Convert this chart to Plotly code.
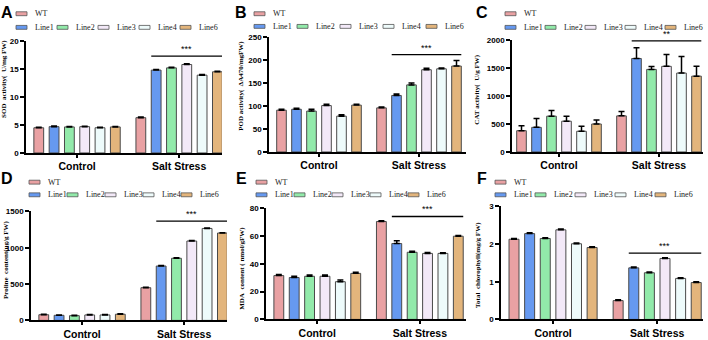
import plotly.graph_objects as go

W, H = 708, 340

groups = ["Control", "Salt Stress"]
series = ["WT", "Line1", "Line2", "Line3", "Line4", "Line6"]
colors = ["#E9A1A3", "#6699F0", "#92EAAA", "#F3E9F8", "#EEFBFB", "#E3B57C"]

# values[panel][series] = [control, salt]
sod = [[4.5, 6.3], [4.7, 14.8], [4.65, 15.2], [4.7, 15.8], [4.5, 13.9], [4.65, 14.5]]
sod_err = [[0.1, 0.1], [0.1, 0.12], [0.08, 0.1], [0.08, 0.12], [0.08, 0.1], [0.08, 0.1]]
pod = [[91, 96], [93, 123], [89, 146], [101, 179], [78, 181], [102, 187]]
pod_err = [[2, 2], [2, 3], [4, 4], [3, 3], [3, 2], [2, 12]]
cat = [[380, 645], [440, 1670], [640, 1475], [550, 1530], [370, 1410], [500, 1355]]
cat_err = [[90, 80], [160, 190], [100, 50], [90, 210], [90, 295], [70, 175]]
pro = [[78, 450], [70, 748], [65, 855], [75, 1092], [75, 1265], [85, 1202]]
pro_err = [[5, 6], [5, 6], [5, 6], [5, 6], [5, 6], [5, 5]]
mda = [[31.6, 70.6], [30.2, 54.7], [31.1, 48.4], [31.1, 47.6], [27.2, 47.6], [33.2, 60.0]]
mda_err = [[0.8, 0.6], [0.9, 2.0], [1.0, 0.8], [0.9, 0.6], [1.2, 0.5], [0.8, 0.5]]
chl = [[2.13, 0.50], [2.28, 1.37], [2.15, 1.24], [2.38, 1.62], [2.01, 1.09], [1.91, 0.98]]
chl_err = [[0.02, 0.02], [0.02, 0.02], [0.02, 0.02], [0.02, 0.02], [0.02, 0.02], [0.02, 0.02]]

y_titles = [
    "SOD\u00a0\u00a0activity(\u00a0\u00a0U/mg FW)",
    "POD activity(\u00a0\u00a0\u0394A470/mgFW)",
    "CAT activity(\u00a0\u00a0U/g FW)",
    "Proline\u00a0\u00a0content(ug/g FW)",
    "MDA\u00a0\u00a0content (\u00a0nmol/gFW)",
    "Total\u00a0\u00a0chlorophyll(mg/g FW)",
]
letters = ["A", "B", "C", "D", "E", "F"]
sig_text = ["***", "***", "**", "***", "***", "***"]
sig_level = [17.3, 212, 1985, 1366, 74.2, 1.76]
y_max = [20, 250, 2000, 1500, 80, 3]
y_dtick = [5, 50, 500, 500, 20, 1]

panels = [(sod, sod_err), (pod, pod_err), (cat, cat_err), (pro, pro_err), (mda, mda_err), (chl, chl_err)]

# layout geometry (pixels)
dom = [  # x0, x1, ytop, ybottom
    (26, 222, 38, 153),
    (269, 466, 34, 152),
    (512, 703, 37, 152),
    (31, 227, 213, 325),
    (266, 466, 210, 324),
    (501, 703, 208, 324),
]
xr = [(-0.5, 1.42), (-0.5, 1.47), (-0.47, 1.44), (-0.5, 1.42), (-0.5, 1.45), (-0.5, 1.44)]
ytitle_pos = [(4, 77), (241, 84), (477, 88), (6, 263), (242, 272), (478, 268)]
letter_pos = [(7, 9), (241, 9), (482, 9), (7, 179), (241, 179), (482, 179)]
leg_pos = [(16, 10, 24, 41), (254, 10, 23, 43), (505, 10, 24, 40),
           (29, 183, 196, 38), (256, 183, 196, 38), (495, 183, 196, 40)]

BARGAP = 0.1
GROUPGAP = 0.36


def px(x):
    return x / W


def py(y):
    return 1 - y / H


fig = go.Figure()
layout = dict(
    width=W, height=H, margin=dict(l=0, r=0, t=0, b=0),
    paper_bgcolor="white", plot_bgcolor="white",
    barmode="group", bargap=BARGAP, bargroupgap=GROUPGAP,
    showlegend=False,
)
shapes = []
annotations = []

for p, (vals, errs) in enumerate(panels):
    xa = "x" if p == 0 else f"x{p+1}"
    ya = "y" if p == 0 else f"y{p+1}"
    xkey = "xaxis" if p == 0 else f"xaxis{p+1}"
    ykey = "yaxis" if p == 0 else f"yaxis{p+1}"
    for s in range(6):
        fig.add_trace(go.Bar(
            x=groups, y=vals[s], name=series[s],
            marker=dict(color=colors[s], line=dict(color="#4a4a4a", width=1)),
            error_y=dict(type="data", array=errs[s], arrayminus=[0, 0], symmetric=False,
                         color="black", thickness=1.5, width=3),
            xaxis=xa, yaxis=ya,
        ))
    x0, x1, yt, yb = dom[p]
    layout[xkey] = dict(
        domain=[px(x0), px(x1)], anchor=ya, type="category", range=list(xr[p]),
        showline=True, linecolor="black", linewidth=1.6,
        ticks="outside", ticklen=3, tickwidth=1.5, tickcolor="black",
        tickfont=dict(family="Liberation Sans", size=10.5, color="black", weight="bold"),
        showgrid=False, zeroline=False, fixedrange=True,
    )
    layout[ykey] = dict(
        domain=[py(yb), py(yt)], anchor=xa, range=[0, y_max[p]], dtick=y_dtick[p],
        showline=True, linecolor="black", linewidth=1.6,
        ticks="outside", ticklen=4, tickwidth=1.5, tickcolor="black",
        tickfont=dict(family="Liberation Sans", size=8, color="black", weight="bold"),
        showgrid=False, zeroline=False, fixedrange=True,
    )
    # significance line over salt-stress transgenic lines
    slot = (1 - BARGAP) / 6
    half_bar = slot * (1 - GROUPGAP) / 2
    lx0 = 1 - (1 - BARGAP) / 2 + slot * 1.5 - half_bar
    lx1 = 1 + (1 - BARGAP) / 2 - slot * 0.5 + half_bar
    shapes.append(dict(type="line", xref=xa, yref=ya, x0=lx0, x1=lx1,
                       y0=sig_level[p], y1=sig_level[p],
                       line=dict(color="black", width=1.3)))
    annotations.append(dict(xref=xa, yref=ya, x=(lx0 + lx1) / 2, y=sig_level[p],
                            text=sig_text[p], showarrow=False, yanchor="bottom", yshift=0,
                            font=dict(family="Liberation Sans", size=9, color="black")))
    # y title
    tx, ty = ytitle_pos[p]
    annotations.append(dict(xref="paper", yref="paper", x=px(tx), y=py(ty), text=y_titles[p],
                            textangle=-90, showarrow=False, xanchor="center", yanchor="middle",
                            font=dict(family="Liberation Serif", size=7, color="black", weight="bold")))
    # panel letter
    lx, ly = letter_pos[p]
    annotations.append(dict(xref="paper", yref="paper", x=px(lx), y=py(ly), text=letters[p],
                            showarrow=False, xanchor="center", yanchor="middle",
                            font=dict(family="Liberation Sans", size=16, color="black", weight="bold")))
    # legend
    gx, r1, r2, step = leg_pos[p]
    entries = [(gx, r1, 0)] + [(gx + step * (i - 1), r2, i) for i in range(1, 6)]
    for ex, ey, si in entries:
        shapes.append(dict(type="rect", xref="paper", yref="paper",
                           x0=px(ex), x1=px(ex + 11), y0=py(ey + 2), y1=py(ey - 2),
                           fillcolor=colors[si], line=dict(color="#555555", width=0.8)))
        annotations.append(dict(xref="paper", yref="paper", x=px(ex + 17), y=py(ey),
                                text=series[si], showarrow=False, xanchor="left", yanchor="middle",
                                font=dict(family="Liberation Serif", size=8, color="#222222")))

layout["shapes"] = shapes
layout["annotations"] = annotations
fig.update_layout(**layout)
fig.write_html(
    "out.html",
    config={"displayModeBar": False},
    post_script="document.body.style.margin='0px';document.body.style.padding='0px';"
                "document.documentElement.style.overflow='hidden';",
)
